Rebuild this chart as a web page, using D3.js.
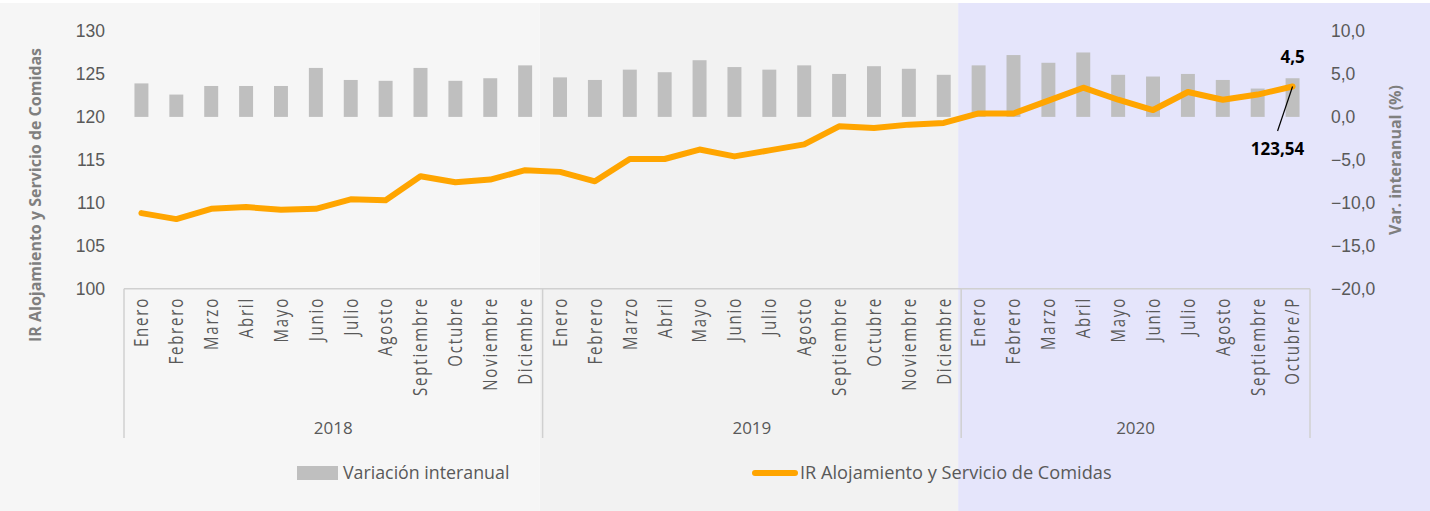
<!DOCTYPE html>
<html>
<head>
<meta charset="utf-8">
<script src="https://cdn.jsdelivr.net/npm/d3@7"></script>
<style>
  body { margin: 0; background: #ffffff; }
  svg { display: block; font-family: "Open Sans", "Noto Sans", sans-serif; }
</style>
</head>
<body>
<svg id="chart"></svg>
<script>
// ---- data ----
var months = ["Enero","Febrero","Marzo","Abril","Mayo","Junio","Julio","Agosto","Septiembre","Octubre","Noviembre","Diciembre",
              "Enero","Febrero","Marzo","Abril","Mayo","Junio","Julio","Agosto","Septiembre","Octubre","Noviembre","Diciembre",
              "Enero","Febrero","Marzo","Abril","Mayo","Junio","Julio","Agosto","Septiembre","Octubre/P"];
var years = ["2018","2019","2020"];
var monthsPerYear = [12,12,10];
var yearShade = ["#f6f6f6","#f2f2f2","#e5e5fb"];

// Variacion interanual (%) - right axis
var variacion = [3.9,2.6,3.6,3.6,3.6,5.7,4.3,4.2,5.7,4.2,4.5,6.0,
                 4.6,4.3,5.5,5.2,6.6,5.8,5.5,6.0,5.0,5.9,5.6,4.9,
                 6.0,7.2,6.3,7.5,4.9,4.7,5.0,4.3,3.3,4.5];
// IR Alojamiento y Servicio de Comidas - left axis
var indice = [108.8,108.1,109.3,109.5,109.2,109.3,110.4,110.3,113.1,112.4,112.7,113.8,
              113.6,112.5,115.1,115.1,116.2,115.4,116.1,116.8,118.9,118.7,119.1,119.3,
              120.4,120.4,121.9,123.4,122.0,120.8,122.9,122.0,122.6,123.54];

var leftTicks = [100,105,110,115,120,125,130];
var rightTicks = [-20,-15,-10,-5,0,5,10];

// ---- layout ----
var width = 1430, height = 511;
var plot = {left:124, right:1310, top:31, bottom:288.7};

var svg = d3.select("#chart")
  .attr("width", width)
  .attr("height", height);

var idx = d3.range(months.length);

var xBand = d3.scaleBand()
  .domain(idx)
  .range([plot.left, plot.right])
  .paddingInner(0.6)
  .paddingOuter(0.3);

var xPos = d3.scaleLinear()
  .domain([0, months.length])
  .range([plot.left, plot.right]);

var yLeft = d3.scaleLinear().domain([100,130]).range([plot.bottom, plot.top]);
var yRight = d3.scaleLinear().domain([-20,10]).range([plot.bottom, plot.top]);

var commaFmt = d3.formatLocale({decimal:",", thousands:".", grouping:[3], currency:["",""]});

// year boundaries (in month index)
var yearStart = [];
var acc = 0;
monthsPerYear.forEach(function(n){ yearStart.push(acc); acc += n; });

// ---- background shading per year ----
svg.append("rect").attr("x",0).attr("y",0).attr("width",width).attr("height",height).attr("fill","#ffffff");
svg.selectAll("rect.shade")
  .data(years)
  .enter()
  .append("rect")
  .attr("class","shade")
  .attr("x", function(d,i){ return i == 0 ? 0 : xPos(yearStart[i]) - 3; })
  .attr("y", 3)
  .attr("width", function(d,i){
      var x0 = i == 0 ? 0 : xPos(yearStart[i]) - 3;
      var x1 = i == years.length-1 ? width : xPos(yearStart[i+1]) - 3;
      return x1 - x0;
  })
  .attr("height", height-3)
  .attr("fill", function(d,i){ return yearShade[i]; });

// ---- bars ----
svg.append("g")
  .selectAll("rect")
  .data(variacion)
  .enter()
  .append("rect")
  .attr("x", function(d,i){ return xBand(i); })
  .attr("y", function(d){ return Math.min(yRight(d), yRight(0)); })
  .attr("width", xBand.bandwidth())
  .attr("height", function(d){ return Math.abs(yRight(0) - yRight(d)); })
  .attr("fill", "#bfbfbf");

// ---- line ----
var line = d3.line()
  .x(function(d,i){ return xBand(i) + xBand.bandwidth()/2; })
  .y(function(d){ return yLeft(d); });

svg.append("path")
  .datum(indice)
  .attr("d", line)
  .attr("fill","none")
  .attr("stroke","#ffa500")
  .attr("stroke-width",6)
  .attr("stroke-linejoin","round")
  .attr("stroke-linecap","round");

// ---- axes ----
var leftAxis = svg.append("g")
  .attr("transform","translate("+plot.left+",0)")
  .call(d3.axisLeft(yLeft).tickValues(leftTicks).tickSize(0).tickPadding(19));
leftAxis.select(".domain").remove();
leftAxis.selectAll("text").attr("fill","#595959").style("font-size","17.5px");

var rightAxis = svg.append("g")
  .attr("transform","translate("+plot.right+",0)")
  .call(d3.axisRight(yRight).tickValues(rightTicks).tickSize(0).tickPadding(21).tickFormat(commaFmt.format(".1f")));
rightAxis.select(".domain").remove();
rightAxis.selectAll("text").attr("fill","#595959").style("font-size","17.5px");

// category axis box
var axisCol = "#d0d0d0";
svg.append("line")
  .attr("x1", plot.left).attr("x2", plot.right)
  .attr("y1", plot.bottom).attr("y2", plot.bottom)
  .attr("stroke", axisCol).attr("stroke-width", 1.5);

var seps = yearStart.concat([months.length]);
svg.selectAll("line.sep")
  .data(seps)
  .enter()
  .append("line")
  .attr("class","sep")
  .attr("x1", function(d){ return xPos(d); })
  .attr("x2", function(d){ return xPos(d); })
  .attr("y1", plot.bottom)
  .attr("y2", 438)
  .attr("stroke", axisCol).attr("stroke-width", 1.5);

// month labels (rotated, glyphs a bit stretched like the original)
svg.append("g")
  .selectAll("text")
  .data(months)
  .enter()
  .append("text")
  .attr("transform", function(d,i){ return "translate("+(xBand(i)+xBand.bandwidth()/2)+",297) rotate(-90) scale(1,1.3)"; })
  .attr("text-anchor","end")
  .attr("dy","0.35em")
  .attr("fill","#595959")
  .style("font-size","15px")
  .style("letter-spacing","1.8px")
  .text(function(d){ return d; });

// year labels
svg.append("g")
  .selectAll("text")
  .data(years)
  .enter()
  .append("text")
  .attr("x", function(d,i){ return (xPos(yearStart[i]) + xPos(yearStart[i]+monthsPerYear[i]))/2; })
  .attr("y", 428)
  .attr("dy","0.35em")
  .attr("text-anchor","middle")
  .attr("fill","#595959")
  .style("font-size","17px")
  .text(function(d){ return d; });

// axis titles
svg.append("text")
  .attr("transform","translate(35,195) rotate(-90)")
  .attr("text-anchor","middle")
  .attr("dy","0.35em")
  .attr("fill","#7f7f7f")
  .style("font-size","16px")
  .style("font-weight","bold")
  .text("IR Alojamiento y Servicio de Comidas");

svg.append("text")
  .attr("transform","translate(1395,160) rotate(-90)")
  .attr("text-anchor","middle")
  .attr("dy","0.35em")
  .attr("fill","#7f7f7f")
  .style("font-size","16px")
  .style("font-weight","bold")
  .text("Var. interanual (%)");

// ---- annotations for last point ----
var last = months.length - 1;
var lx = xBand(last) + xBand.bandwidth()/2;
svg.append("text")
  .attr("x", lx).attr("y", 57).attr("dy","0.35em")
  .attr("text-anchor","middle")
  .attr("fill","#000")
  .style("font-size","17px").style("font-weight","bold")
  .text(commaFmt.format(".1f")(variacion[last]));

svg.append("line")
  .attr("x1", lx).attr("y1", yLeft(indice[last]))
  .attr("x2", lx - 15).attr("y2", 131)
  .attr("stroke","#000").attr("stroke-width",1.2);

svg.append("text")
  .attr("x", lx - 15).attr("y", 149).attr("dy","0.35em")
  .attr("text-anchor","middle")
  .attr("fill","#000")
  .style("font-size","17px").style("font-weight","bold")
  .text(commaFmt.format(".2f")(indice[last]));

// ---- legend ----
var legend = svg.append("g");
legend.append("rect")
  .attr("x",297).attr("y",466).attr("width",41).attr("height",14)
  .attr("fill","#bfbfbf");
legend.append("text")
  .attr("x",343).attr("y",473).attr("dy","0.35em")
  .attr("fill","#595959").style("font-size","17.8px")
  .text("Variación interanual");
legend.append("line")
  .attr("x1",755).attr("x2",795).attr("y1",473).attr("y2",473)
  .attr("stroke","#ffa500").attr("stroke-width",6).attr("stroke-linecap","round");
legend.append("text")
  .attr("x",800).attr("y",473).attr("dy","0.35em")
  .attr("fill","#595959").style("font-size","18.2px")
  .text("IR Alojamiento y Servicio de Comidas");
</script>
</body>
</html>
